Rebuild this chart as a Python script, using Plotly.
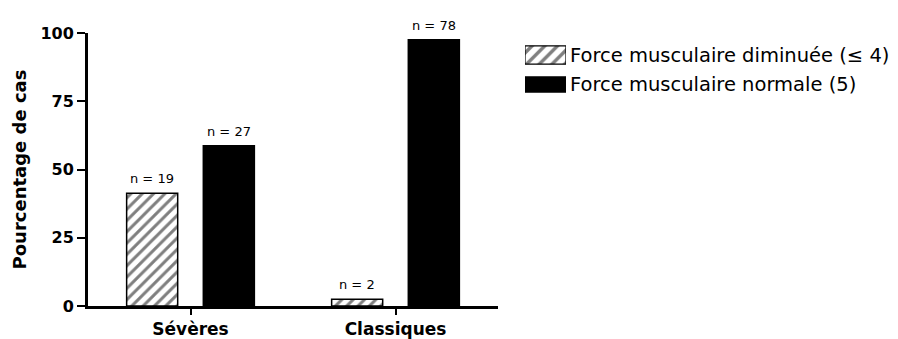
import plotly.graph_objects as go

categories = ["Sévères", "Classiques"]
series_names = ["Force musculaire diminuée (≤ 4)", "Force musculaire normale (5)"]
pct_diminuee = [41.3, 2.5]
pct_normale = [58.7, 97.5]
n_diminuee = [19, 2]
n_normale = [27, 78]
y_ticks = [0, 25, 50, 75, 100]

BOLD = "DejaVu Sans, Verdana, sans-serif"
BAR_W = 0.249
OFFSETS = [-0.3115, 0.0625]
hatch = dict(shape="/", fgcolor="black", bgcolor="white", size=8, solidity=0.38)

fig = go.Figure()
fig.add_trace(go.Bar(
    name=series_names[0], x=categories, y=pct_diminuee,
    width=BAR_W, offset=OFFSETS[0], showlegend=False,
    marker=dict(color="white", line=dict(color="black", width=1.5), pattern=hatch),
))
fig.add_trace(go.Bar(
    name=series_names[1], x=categories, y=pct_normale,
    width=BAR_W, offset=OFFSETS[1], showlegend=False,
    marker=dict(color="black", line=dict(color="black", width=1.5)),
))

# n = ... labels above bars
annotations = []
for vals, ns, off in [(pct_diminuee, n_diminuee, OFFSETS[0]), (pct_normale, n_normale, OFFSETS[1])]:
    for i, (v, n) in enumerate(zip(vals, ns)):
        annotations.append(dict(
            x=i + off + BAR_W / 2, y=v, xref="x", yref="y", text=f"n = {n}",
            showarrow=False, yanchor="bottom", yshift=5,
            font=dict(family=BOLD, size=13, color="black"),
        ))

# custom legend (wide swatches) drawn on a second pair of axes
fig.add_trace(go.Bar(
    x=[1], y=[series_names[0]], orientation="h", xaxis="x2", yaxis="y2", width=0.62,
    showlegend=False, hoverinfo="skip",
    marker=dict(color="white", line=dict(color="black", width=1.2),
                pattern=dict(shape="/", fgcolor="black", bgcolor="white", size=9, solidity=0.38)),
))
fig.add_trace(go.Bar(
    x=[1], y=[series_names[1]], orientation="h", xaxis="x2", yaxis="y2", width=0.52,
    showlegend=False, hoverinfo="skip",
    marker=dict(color="black", line=dict(color="black", width=1)),
))

fig.update_layout(
    width=898, height=339,
    margin=dict(l=88, r=2, t=33, b=33),
    paper_bgcolor="white", plot_bgcolor="white",
    barmode="overlay",
    font=dict(family=BOLD, color="black"),
    showlegend=False,
    annotations=annotations,
    xaxis=dict(
        domain=[0, 410 / 808], range=[-0.5, 1.5], automargin=False,
        showline=True, linecolor="black", linewidth=3,
        ticks="outside", ticklen=6, tickwidth=2, tickcolor="black",
        tickfont=dict(family=BOLD, size=17, color="black", weight="bold"),
        showgrid=False, zeroline=False,
    ),
    yaxis=dict(
        range=[0, 100], tickvals=y_ticks, automargin=False,
        showline=True, linecolor="black", linewidth=3,
        ticks="outside", ticklen=8, tickwidth=2, tickcolor="black",
        tickfont=dict(family=BOLD, size=16, color="black", weight="bold"),
        title=dict(text="Pourcentage de cas",
                   font=dict(family=BOLD, size=18, color="black", weight="bold"), standoff=10),
        showgrid=False, zeroline=False,
    ),
    xaxis2=dict(
        domain=[(525 - 88) / 808, (566 - 88) / 808], range=[0, 1], anchor="y2",
        visible=False, fixedrange=True,
    ),
    yaxis2=dict(
        domain=[0.7573, 0.9735], range=[-0.5, 1.5], anchor="x2", side="right",
        type="category", categoryorder="array", categoryarray=[series_names[1], series_names[0]],
        showline=False, showgrid=False, zeroline=False, ticks="", automargin=False,
        ticklabelstandoff=3, fixedrange=True,
        tickfont=dict(family=BOLD, size=19.5, color="black"),
    ),
)

fig.write_html("out.html", config={"displayModeBar": False},
               post_script="document.body.style.margin='0';document.body.style.overflow='hidden';")
